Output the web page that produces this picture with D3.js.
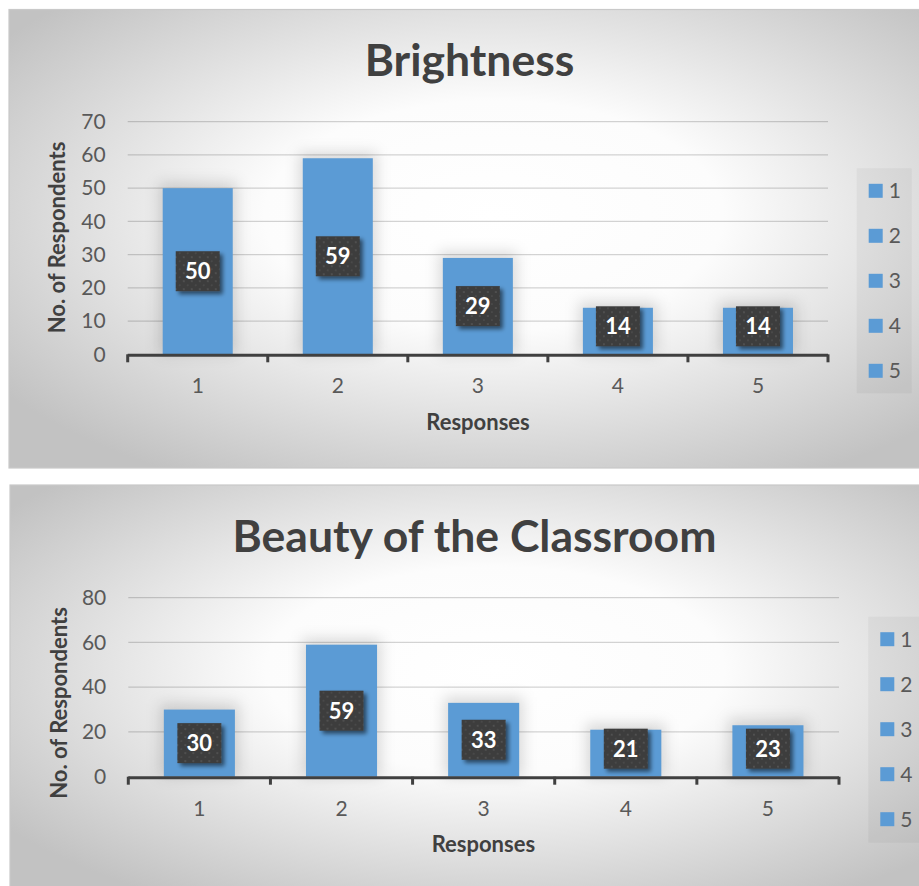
<!DOCTYPE html>
<html>
<head>
<meta charset="utf-8">
<script src="https://cdn.jsdelivr.net/npm/d3@7"></script>
<style>
  html, body { margin: 0; padding: 0; background: #ffffff; }
  svg { display: block; font-family: Lato, "Open Sans", sans-serif; }
</style>
</head>
<body>
<svg id="chart" width="919" height="886"></svg>
<script>
// Survey responses (rating 1–5) and the number of respondents for each
const categories = ["1", "2", "3", "4", "5"];
const brightnessValues = [50, 59, 29, 14, 14];
const beautyValues = [30, 59, 33, 21, 23];
const brightnessTicks = [0, 10, 20, 30, 40, 50, 60, 70];
const beautyTicks = [0, 20, 40, 60, 80];
const brightnessTitle = "Brightness";
const beautyTitle = "Beauty of the Classroom";
const yAxisTitle = "No. of Respondents";
const xAxisTitle = "Responses";

const barColor = "#5b9bd5";
const textDark = "#404040";
const textMid = "#595959";

const svg = d3.select("#chart");
const defs = svg.append("defs");

// Panel background: white centre fading to grey edges
const grad = defs.append("radialGradient")
  .attr("id", "panelFill")
  .attr("cx", 0.53).attr("cy", 0.45).attr("r", 0.66)
  .attr("fx", 0.53).attr("fy", 0.45);
grad.append("stop").attr("offset", 0).attr("stop-color", "#ffffff");
grad.append("stop").attr("offset", 0.38).attr("stop-color", "#fcfcfc");
grad.append("stop").attr("offset", 1).attr("stop-color", "#c2c2c2");

// Soft glow behind bars
const glow = defs.append("filter").attr("id", "barGlow")
  .attr("x", "-60%").attr("y", "-60%").attr("width", "220%").attr("height", "220%");
glow.append("feGaussianBlur").attr("stdDeviation", 7);

// Drop shadow for data label boxes
const shadow = defs.append("filter").attr("id", "labelShadow")
  .attr("x", "-30%").attr("y", "-30%").attr("width", "170%").attr("height", "170%");
shadow.append("feGaussianBlur").attr("in", "SourceAlpha").attr("stdDeviation", 2.2).attr("result", "b");
shadow.append("feOffset").attr("in", "b").attr("dx", 2.5).attr("dy", 3).attr("result", "o");
shadow.append("feComponentTransfer").attr("in", "o").attr("result", "s")
  .append("feFuncA").attr("type", "linear").attr("slope", 0.55);
const merge = shadow.append("feMerge");
merge.append("feMergeNode").attr("in", "s");
merge.append("feMergeNode").attr("in", "SourceGraphic");

// Dotted texture for label boxes
const dots = defs.append("pattern").attr("id", "dotTexture")
  .attr("patternUnits", "userSpaceOnUse").attr("width", 8).attr("height", 8);
dots.append("rect").attr("width", 8).attr("height", 8).attr("fill", "#3c3c3c");
dots.append("circle").attr("cx", 2).attr("cy", 2).attr("r", 0.9).attr("fill", "#5a5a5a");
dots.append("circle").attr("cx", 6).attr("cy", 6).attr("r", 0.9).attr("fill", "#4d4d4d");

function drawChart(cfg) {
  const g = svg.append("g");

  // panel
  g.append("rect")
    .attr("x", cfg.panel.x).attr("y", cfg.panel.y)
    .attr("width", cfg.panel.w).attr("height", cfg.panel.h)
    .attr("fill", "url(#panelFill)")
    .attr("stroke", "#c9c9c9").attr("stroke-width", 1.2);

  const x = d3.scaleBand()
    .domain(categories)
    .range([cfg.plot.left, cfg.plot.right])
    .paddingInner(0.5).paddingOuter(0.25);
  const y = d3.scaleLinear()
    .domain([0, d3.max(cfg.ticks)])
    .range([cfg.plot.bottom, cfg.plot.top]);

  // gridlines
  g.append("g").selectAll("line").data(cfg.ticks.filter(t => t > 0)).join("line")
    .attr("x1", cfg.plot.left).attr("x2", cfg.plot.right)
    .attr("y1", d => y(d)).attr("y2", d => y(d))
    .attr("stroke", "rgba(0,0,0,0.17)").attr("stroke-width", 1.3);

  // y axis labels
  const yAxis = g.append("g")
    .attr("transform", `translate(${cfg.plot.left},0)`)
    .call(d3.axisLeft(y).tickValues(cfg.ticks).tickSize(0).tickPadding(22));
  yAxis.select(".domain").remove();
  yAxis.selectAll("text")
    .attr("fill", textMid).style("font-size", "21px").style("font-family", "Lato, sans-serif");

  // bar glow
  g.append("g").selectAll("rect").data(cfg.values).join("rect")
    .attr("x", (d, i) => x(categories[i]) - 4)
    .attr("y", d => y(d) - 6)
    .attr("width", x.bandwidth() + 8)
    .attr("height", d => y(0) - y(d) + 6)
    .attr("fill", "rgba(0,0,0,0.14)")
    .attr("filter", "url(#barGlow)");

  // bars
  g.append("g").selectAll("rect").data(cfg.values).join("rect")
    .attr("x", (d, i) => x(categories[i]))
    .attr("y", d => y(d))
    .attr("width", x.bandwidth())
    .attr("height", d => y(0) - y(d))
    .attr("fill", barColor);

  // x axis line and category-boundary ticks
  g.append("line")
    .attr("x1", cfg.plot.left).attr("x2", cfg.plot.right)
    .attr("y1", y(0) + 1).attr("y2", y(0) + 1)
    .attr("stroke", textDark).attr("stroke-width", 3);
  const bounds = d3.range(categories.length + 1).map(i => cfg.plot.left + i * x.step());
  g.append("g").selectAll("line").data(bounds).join("line")
    .attr("x1", d => d).attr("x2", d => d)
    .attr("y1", y(0)).attr("y2", y(0) + 8)
    .attr("stroke", textDark).attr("stroke-width", 3);

  const xAxis = g.append("g")
    .attr("transform", `translate(0,${y(0)})`)
    .call(d3.axisBottom(x).tickSize(0).tickPadding(24));
  xAxis.select(".domain").remove();
  xAxis.selectAll("text")
    .attr("fill", textMid).style("font-size", "21px").style("font-family", "Lato, sans-serif");

  // data labels
  const boxW = 44, boxH = 40;
  const labelY = d => Math.min((y(d) + y(0)) / 2, y(0) - 8 - boxH / 2);
  const lab = g.append("g").selectAll("g").data(cfg.values).join("g")
    .attr("transform", (d, i) => `translate(${x(categories[i]) + x.bandwidth() / 2},${labelY(d)})`);
  lab.append("rect")
    .attr("x", -boxW / 2).attr("y", -boxH / 2)
    .attr("width", boxW).attr("height", boxH)
    .attr("fill", "url(#dotTexture)")
    .attr("filter", "url(#labelShadow)");
  lab.append("text")
    .attr("text-anchor", "middle").attr("dy", "0.36em")
    .attr("fill", "#ffffff")
    .style("font-size", "22px").style("font-weight", 700)
    .text(d => d);

  // title
  g.append("text")
    .attr("x", cfg.titlePos[0]).attr("y", cfg.titlePos[1])
    .attr("text-anchor", "middle")
    .attr("fill", textDark)
    .style("font-size", "44.5px").style("font-weight", 700)
    .text(cfg.title);

  // axis titles
  g.append("text")
    .attr("transform", `translate(${cfg.yTitlePos[0]},${cfg.yTitlePos[1]}) rotate(-90)`)
    .attr("text-anchor", "middle")
    .attr("fill", textDark)
    .style("font-size", "22px").style("font-weight", 700)
    .text(yAxisTitle);
  g.append("text")
    .attr("x", cfg.xTitlePos[0]).attr("y", cfg.xTitlePos[1])
    .attr("text-anchor", "middle")
    .attr("fill", textDark)
    .style("font-size", "22px").style("font-weight", 700)
    .text(xAxisTitle);

  // legend
  const L = cfg.legend;
  g.append("rect")
    .attr("x", L.x).attr("y", L.y).attr("width", L.w).attr("height", L.h)
    .attr("fill", "rgba(0,0,0,0.04)");
  const items = g.append("g").selectAll("g").data(categories).join("g")
    .attr("transform", (d, i) => `translate(${L.x + 12},${L.y + 22.5 + i * 45})`);
  items.append("rect")
    .attr("x", 0).attr("y", -7).attr("width", 14).attr("height", 14)
    .attr("fill", barColor);
  items.append("text")
    .attr("x", 20).attr("dy", "0.36em")
    .attr("fill", textMid)
    .style("font-size", "21px")
    .text(d => d);
}

drawChart({
  values: brightnessValues,
  ticks: brightnessTicks,
  title: brightnessTitle,
  panel: { x: 9, y: 9.5, w: 915, h: 458.5 },
  plot: { left: 127.7, right: 828, top: 121.7, bottom: 354.3 },
  titlePos: [469.5, 76],
  yTitlePos: [65, 237.5],
  xTitlePos: [478, 430],
  legend: { x: 856.7, y: 168.3, w: 55, h: 225 }
});

drawChart({
  values: beautyValues,
  ticks: beautyTicks,
  title: beautyTitle,
  panel: { x: 10, y: 485, w: 915, h: 410 },
  plot: { left: 128.3, right: 839, top: 597.7, bottom: 776.7 },
  titlePos: [474.5, 551.7],
  yTitlePos: [67, 703],
  xTitlePos: [483.4, 852],
  legend: { x: 868.3, y: 616.7, w: 60, h: 226 }
});
</script>
</body>
</html>
